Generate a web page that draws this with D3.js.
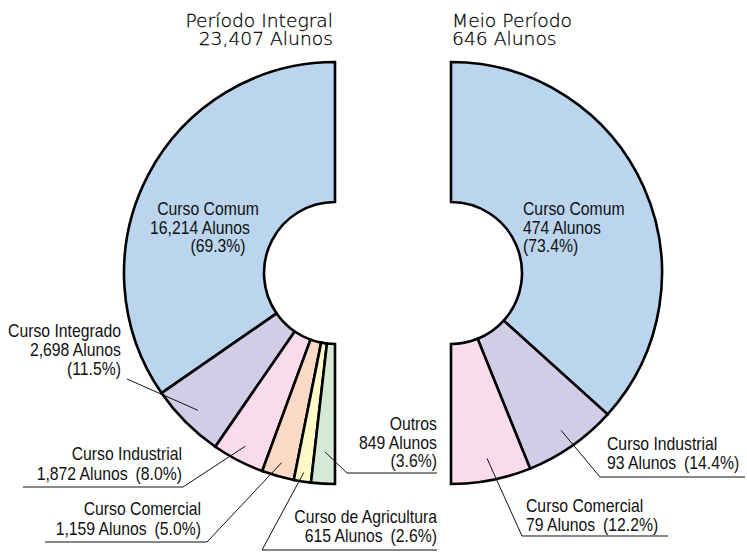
<!DOCTYPE html>
<html>
<head>
<meta charset="utf-8">
<script src="https://cdn.jsdelivr.net/npm/d3@7"></script>
<style>
  body { margin: 0; background: #fff; }
  svg { display: block; }
  .title { font-family: 'DejaVu Sans', sans-serif; font-size: 18px; font-weight: 200; fill: #000; stroke: #000; stroke-width: 0.25px; }
  .lbl { font-family: 'Liberation Sans', Arial, sans-serif; font-size: 19px; fill: #111; }
</style>
</head>
<body>
<script>
'use strict';

// data
var leftTitle = ['Período Integral', '23,407 Alunos'];
var leftCategories = ['Curso Comum', 'Curso Integrado', 'Curso Industrial', 'Curso Comercial', 'Curso de Agricultura', 'Outros'];
var leftValues = [16214, 2698, 1872, 1159, 615, 849];

var rightTitle = ['Meio Período', '646 Alunos'];
var rightCategories = ['Curso Comum', 'Curso Industrial', 'Curso Comercial'];
var rightValues = [474, 93, 79];

var colors = ['#bbd5ef', '#d1cde6', '#f9dbea', '#fad9c6', '#fefac8', '#d5ead6'];

var width = 747, height = 552;
var outerR = 211, innerR = 71;
var narrow = 0.83; // squeeze labels horizontally, the original uses a condensed face

// label layout (one entry per slice, same order as the data)
// mode 3 = name / count / pct, mode 2 = name / count (pct)
var leftLayout = [
  {mode: 3, anchor: 'middle', xs: [208, 200, 218], y: 215, dy: 18.5},
  {mode: 3, anchor: 'end', xs: [121, 121, 121], y: 337, dy: 19, from: [127, 379], r: 194},
  {mode: 2, anchor: 'end', xs: [182, 182], y: 460, dy: 20, from: [183, 487], under: [23, 183, 487], r: 195},
  {mode: 2, anchor: 'end', xs: [201, 201], y: 515, dy: 20, from: [207, 542], under: [45, 207, 542], r: 197},
  {mode: 2, anchor: 'end', xs: [437, 437], y: 523, dy: 19, from: [262, 550], under: [262, 437, 550], r: 202},
  {mode: 3, anchor: 'end', xs: [437, 437, 437], y: 430, dy: 18.5, from: [347, 473], under: [347, 437, 473], r: 179}
];
var rightLayout = [
  {mode: 3, anchor: 'start', xs: [523, 523, 523], y: 215, dy: 18.5},
  {mode: 2, anchor: 'start', xs: [607, 607], y: 450, dy: 18.5, from: [600, 477], under: [600, 745, 477], r: 192},
  {mode: 2, anchor: 'start', xs: [526, 526], y: 512, dy: 18.5, from: [522, 536], under: [522, 668, 536], r: 189}
];

var fmt = d3.format(',');
var pctFmt = d3.format('.1f');

var svg = d3.select('body').append('svg')
  .attr('width', width)
  .attr('height', height);

function addText(cls, x, y, anchor, sx, t) {
  svg.append('text')
    .attr('class', cls)
    .attr('transform', 'translate(' + x + ',' + y + ') scale(' + sx + ',1)')
    .attr('text-anchor', anchor)
    .text(t);
}

function donut(cx, cy, cats, values, layout, a1) {
  var total = d3.sum(values);
  var pie = d3.pie().sort(null).startAngle(0).endAngle(a1);
  var arcs = pie(values);
  var arc = d3.arc().innerRadius(innerR).outerRadius(outerR);

  var g = svg.append('g').attr('transform', 'translate(' + cx + ',' + cy + ')');

  g.selectAll('path.slice')
    .data(arcs)
    .enter().append('path')
    .attr('class', 'slice')
    .attr('d', arc)
    .attr('fill', function(d, i) { return colors[i]; })
    .attr('stroke', '#000')
    .attr('stroke-width', 2.6)
    .attr('stroke-linejoin', 'miter');

  arcs.forEach(function(d, i) {
    var L = layout[i];
    var name = cats[i];
    var count = fmt(values[i]) + ' Alunos';
    var pct = '(' + pctFmt(values[i] / total * 100) + '%)';
    var lines = L.mode === 3 ? [name, count, pct] : [name, count + '\u2002' + pct];

    lines.forEach(function(t, k) {
      addText('lbl', L.xs[k], L.y + k * L.dy, L.anchor, narrow, t);
    });

    if (L.from) {
      var p = d3.arc().innerRadius(L.r).outerRadius(L.r).centroid(d);
      svg.append('line')
        .attr('x1', L.from[0]).attr('y1', L.from[1])
        .attr('x2', cx + p[0]).attr('y2', cy + p[1])
        .attr('stroke', '#111')
        .attr('stroke-width', 1);
    }
    if (L.under) {
      svg.append('line')
        .attr('x1', L.under[0]).attr('y1', L.under[2])
        .attr('x2', L.under[1]).attr('y2', L.under[2])
        .attr('stroke', '#111')
        .attr('stroke-width', 1);
    }
  });
}

donut(335, 273, leftCategories, leftValues, leftLayout, -Math.PI);
donut(451, 273, rightCategories, rightValues, rightLayout, Math.PI);

// titles
leftTitle.forEach(function(t, k) {
  addText('title', 333, 27 + k * 18, 'end', 1.04, t);
});
rightTitle.forEach(function(t, k) {
  addText('title', 452, 27 + k * 18, 'start', 1.04, t);
});
</script>
</body>
</html>
